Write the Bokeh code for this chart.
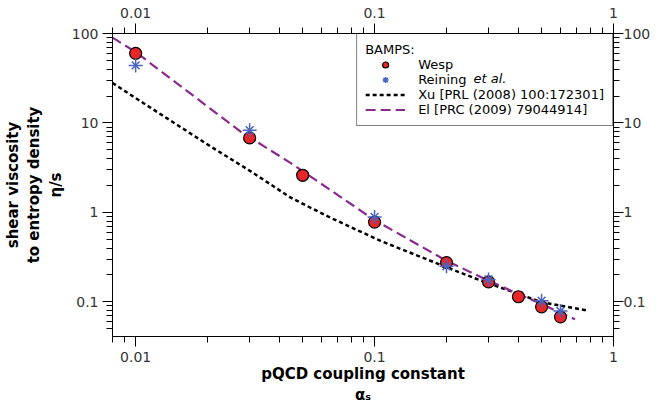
from bokeh.plotting import figure
from bokeh.models import (Range1d, LogAxis, LogTicker, Legend, LegendItem,
                          ColumnDataSource, CustomJSTickFormatter, Label)
from bokeh.embed import file_html
from bokeh.resources import INLINE

# ---- data ----
alpha_wesp = [0.01, 0.03, 0.05, 0.1, 0.2, 0.3, 0.4, 0.5, 0.6]
eta_wesp = [60, 6.8, 2.6, 0.78, 0.275, 0.167, 0.114, 0.088, 0.068]

alpha_rein = [0.01, 0.03, 0.1, 0.2, 0.3, 0.5, 0.6]
eta_rein = [44, 8.3, 0.89, 0.25, 0.178, 0.103, 0.079]

alpha_xu = [0.008, 0.0108, 0.0206, 0.0303, 0.0446, 0.0655, 0.106, 0.201, 0.278, 0.4, 0.5, 0.78]
eta_xu = [28, 16.6, 5.46, 2.88, 1.46, 0.87, 0.48, 0.243, 0.173, 0.123, 0.099, 0.080]

alpha_el = [0.008, 0.01, 0.0275, 0.0446, 0.1, 0.2, 0.278, 0.4, 0.5, 0.6, 0.69]
eta_el = [90, 62, 8.0, 3.56, 0.82, 0.288, 0.19, 0.122, 0.095, 0.075, 0.064]

FONT = "DejaVu Sans"
TICK_COLOR = "#333333"

p = figure(width=659, height=407, x_axis_type="log", y_axis_type="log",
           x_range=Range1d(0.008, 1), y_range=Range1d(0.041, 100),
           output_backend="svg", toolbar_location=None,
           min_border_left=112, min_border_right=46,
           min_border_top=33, min_border_bottom=69)
p.grid.visible = False
p.outline_line_color = None
p.background_fill_color = "white"
p.border_fill_color = "white"

top_axis = LogAxis()
right_axis = LogAxis()
p.add_layout(top_axis, "above")
p.add_layout(right_axis, "right")
bottom_axis = p.below[0]
left_axis = p.left[0]

fmt_code = "return String(parseFloat(tick.toPrecision(6)));"
for ax in (bottom_axis, top_axis):
    ax.ticker = LogTicker(desired_num_ticks=3, num_minor_ticks=10)
for ax in (left_axis, right_axis):
    ax.ticker = LogTicker(desired_num_ticks=4, num_minor_ticks=10)

for ax in (bottom_axis, top_axis, left_axis, right_axis):
    ax.formatter = CustomJSTickFormatter(code=fmt_code)
    ax.axis_line_color = "black"
    ax.axis_line_width = 1
    ax.major_tick_line_color = "black"
    ax.minor_tick_line_color = "black"
    ax.major_tick_in = 0
    ax.major_tick_out = 10
    ax.minor_tick_in = 0
    ax.minor_tick_out = 6
    ax.major_label_text_font = FONT
    ax.major_label_text_font_size = "14px"
    ax.major_label_text_color = TICK_COLOR
    ax.major_label_standoff = 4
    ax.axis_label_text_font = FONT
    ax.axis_label_text_font_size = "15px"
    ax.axis_label_text_font_style = "bold"
    ax.axis_label_text_color = "black"
    ax.axis_label_standoff = 4

top_axis.axis_label_standoff = 0
right_axis.axis_label_standoff = 0
right_axis.major_label_standoff = 0
bottom_axis.major_label_standoff = 5
top_axis.major_label_standoff = 6
bottom_axis.axis_label_standoff = 0

bottom_axis.axis_label = "pQCD coupling constant\nαₛ"
left_axis.axis_label = "shear viscosity\nto entropy density\nη/s"

r_xu = p.line(alpha_xu, eta_xu, line_color="black", line_width=2.5,
              line_dash="4 3")
r_el = p.line(alpha_el, eta_el, line_color="#8a2a8e", line_width=2.2,
              line_dash="10 5")

src_w = ColumnDataSource(dict(x=alpha_wesp, y=eta_wesp))
r_w = p.scatter("x", "y", source=src_w, marker="circle", size=12,
                fill_color="#e8262a", line_color="black", line_width=1.2)

src_r = ColumnDataSource(dict(x=alpha_rein, y=eta_rein))
r_r1 = p.scatter("x", "y", source=src_r, marker="cross", size=14,
                 line_color="#4a63c0", line_width=1.5)
r_r2 = p.scatter("x", "y", source=src_r, marker="x", size=11,
                 line_color="#4a63c0", line_width=1.5)

legend = Legend(items=[
    LegendItem(label="Wesp", renderers=[r_w]),
    LegendItem(label="Reining", renderers=[r_r1, r_r2]),
    LegendItem(label="Xu [PRL (2008) 100:172301]", renderers=[r_xu]),
    LegendItem(label="El [PRC (2009) 79044914]", renderers=[r_el]),
], location="top_right")
legend.title = "BAMPS:"
legend.title_text_font = FONT
legend.title_text_font_size = "13px"
legend.title_text_font_style = "normal"
legend.title_text_color = "black"
legend.label_text_font = FONT
legend.label_text_font_size = "13px"
legend.label_text_color = "black"
legend.border_line_color = "black"
legend.border_line_width = 1
legend.background_fill_alpha = 0
legend.margin = 0
legend.padding = 8
legend.spacing = 0
legend.label_height = 15
legend.glyph_height = 15
legend.glyph_width = 40
legend.label_standoff = 13
legend.title_standoff = 0
p.add_layout(legend)

# italic part of the "Reining et al." legend label
p.add_layout(Label(x=0.2595, y=31.6, text="et al.", text_font=FONT,
                   text_font_size="13px", text_font_style="italic",
                   text_color="black", text_baseline="middle",
                   text_align="left"))

open("out.html", "w").write(file_html(p, INLINE))
